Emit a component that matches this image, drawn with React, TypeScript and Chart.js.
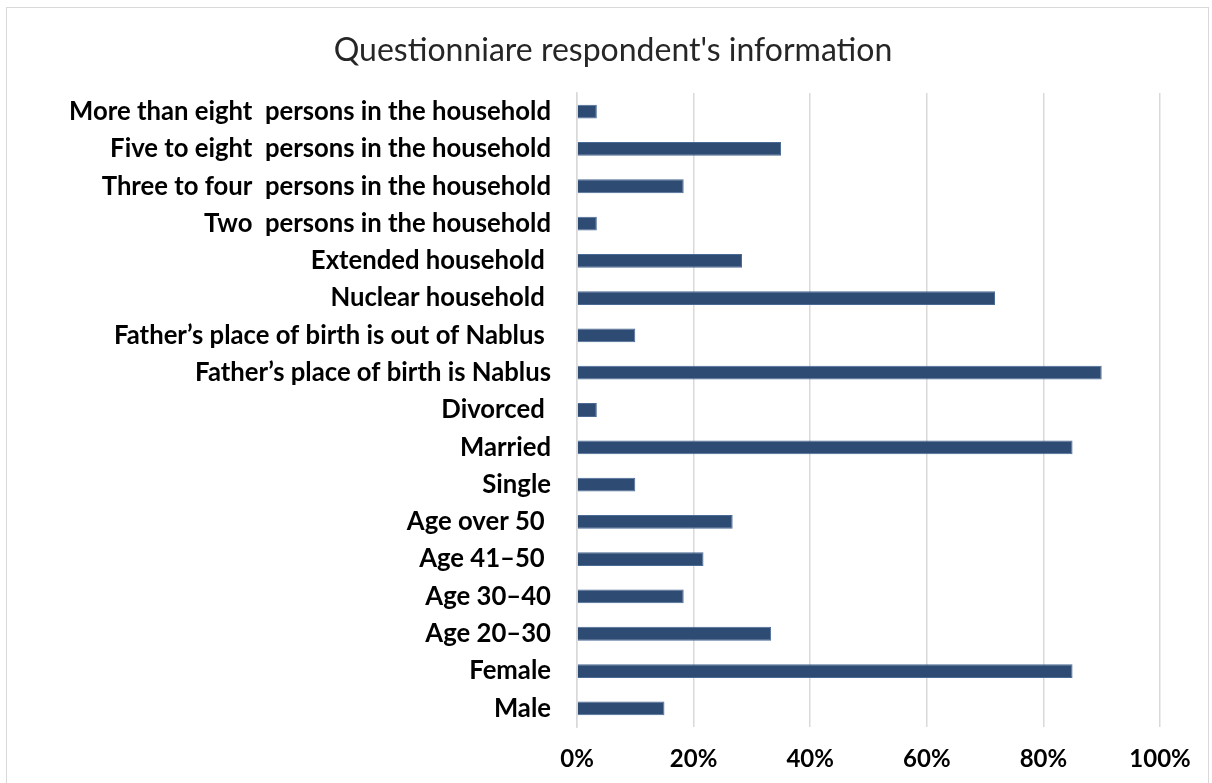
import React, { useEffect, useRef } from "react";
import { Chart, registerables } from "chart.js";

Chart.register(...registerables);

const titleText = "Questionniare respondent's information";

const categories = [
  "More than eight  persons in the household",
  "Five to eight  persons in the household",
  "Three to four  persons in the household",
  "Two  persons in the household",
  "Extended household ",
  "Nuclear household ",
  "Father\u2019s place of birth is out of Nablus ",
  "Father\u2019s place of birth is Nablus",
  "Divorced ",
  "Married",
  "Single",
  "Age over 50 ",
  "Age 41\u201350 ",
  "Age 30\u201340",
  "Age 20\u201330",
  "Female",
  "Male",
];

const values = [3.4, 35, 18.3, 3.4, 28.3, 71.7, 10, 90, 3.4, 85, 10, 26.7, 21.7, 18.3, 33.3, 85, 15];

const xTicks = [0, 20, 40, 60, 80, 100];

export default function App() {
  const ref = useRef<HTMLCanvasElement | null>(null);

  useEffect(() => {
    document.body.style.margin = "0";
    document.body.style.overflow = "hidden";
    if (!ref.current) return;
    const chart = new Chart(ref.current, {
      type: "bar",
      data: {
        labels: categories,
        datasets: [
          {
            data: values,
            backgroundColor: "#2E4B74",
            borderColor: "#4A6A95",
            borderWidth: 1,
            barPercentage: 0.37,
            categoryPercentage: 1,
          },
        ],
      },
      options: {
        indexAxis: "y",
        animation: false,
        responsive: false,
        devicePixelRatio: 1,
        layout: { padding: { top: 31, right: 52, bottom: 6, left: 66 } },
        plugins: {
          legend: { display: false },
          tooltip: { enabled: false },
          title: {
            display: true,
            text: titleText,
            color: "#262626",
            font: { family: "Lato", size: 32, weight: "normal" },
            padding: { top: 0, bottom: 23.6 },
          },
        },
        scales: {
          x: {
            min: 0,
            max: 100,
            afterBuildTicks: (scale: any) => {
              scale.ticks = xTicks.map((v) => ({ value: v }));
            },
            afterFit: (scale: any) => {
              scale.height = 50;
            },
            ticks: {
              callback: (v: any) => v + "%",
              color: "#000",
              font: { family: "Lato", size: 24, weight: "bold" },
              padding: 18,
              maxRotation: 0,
            },
            grid: { color: "#D9D9D9", lineWidth: 1.5, drawTicks: false },
            border: { display: false },
          },
          y: {
            afterFit: (scale: any) => {
              scale.width = 511;
            },
            ticks: {
              color: "#000",
              font: { family: "Lato", size: 25.7, weight: "bold" },
              padding: 26,
              autoSkip: false,
            },
            grid: { display: false, drawTicks: false },
            border: { display: true, color: "#D9D9D9", width: 1.5 },
          },
        },
      },
    });
    return () => chart.destroy();
  }, []);

  return (
    <div style={{ position: "relative", width: 1212, height: 783, background: "#fff" }}>
      <canvas ref={ref} width={1212} height={783} style={{ position: "absolute", left: 0, top: 0 }} />
      <div
        style={{
          position: "absolute",
          left: 6,
          top: 7,
          width: 1203,
          height: 780,
          border: "1px solid #D9D9D9",
          boxSizing: "border-box",
          pointerEvents: "none",
        }}
      />
    </div>
  );
}
